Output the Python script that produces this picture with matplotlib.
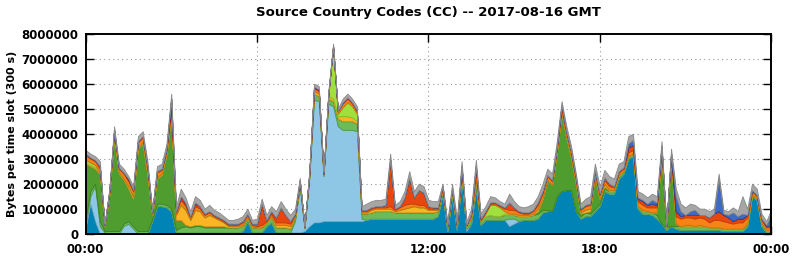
import numpy as np
import matplotlib
matplotlib.use("Agg")
import matplotlib.pyplot as plt

# bytes per 10-minute step, in millions, bottom layer first
db = [.2, 1.2, .5, 0, .05, 0, 0, 0, 0, 0,
      0, 0, 0, 0, .5, 1.1, 1.1, 1.05, .9, .05,
      .05, .05, .05, .05, .05, .05, .05, .05, .05, .05,
      .05, .05, .05, .1, .5, .05, .05, .05, .3, .45,
      .05, .05, .05, .05, .05, .05, .1, .3, .45, .45,
      .5, .5, .5, .5, .5, .5, .5, .5, .5, .55,
      .6, .6, .6, .6, .6, .6, .6, .6, .6, .6,
      .6, .6, .6, .6, .7, 1.6, .1, 1.5, .15, 2.2,
      .1, .4, 1.8, .35, .55, .55, .55, .55, .55, .3,
      .4, .5, .55, .55, .55, .6, .85, .9, .9, 1.5,
      1.7, 1.75, 1.75, .9, .6, .7, .7, .9, 1.1, 1.7,
      1.6, 1.6, 2.2, 2.4, 3.0, 3.1, 1.0, .8, .8, .75,
      .6, .4, .15, .3, .2, .15, .15, .15, .15, .15,
      .15, .15, .15, .15, .1, .1, .1, .1, .1, .3,
      1.5, 1.35, .3, .05, .05]
lb = [.1, .3, 1.4, .3, 0, 0, 0, 0, .3, .4,
      .2, 0, 0, 0, 0, 0, 0, 0, 0, 0,
      0, 0, 0, 0, 0, 0, 0, 0, 0, 0,
      0, 0, 0, 0, 0, 0, 0, 0, 0, 0,
      0, 0, 0, 0, .45, 1.8, .1, 1.9, 4.9, 4.85,
      1.8, 4.7, 4.6, 3.8, 3.65, 3.65, 3.65, 3.6, .1, 0,
      0, 0, 0, 0, 0, 0, 0, 0, 0, 0,
      0, 0, 0, 0, 0, 0, 0, 0, 0, 0,
      .1, 0, 0, 0, 0, 0, 0, 0, 0, .3,
      .2, 0, 0, 0, 0, 0, 0, 0, 0, 0,
      0, 0, 0, 0, 0, 0, 0, 0, 0, 0,
      0, 0, 0, 0, 0, 0, 0, 0, 0, 0,
      0, 0, 0, 0, 0, 0, 0, 0, 0, 0,
      0, 0, 0, 0, 0, 0, 0, 0, 0, 0,
      0, 0, 0, 0, 0]
mg = [.3, .2, .1, .2, .05, .1, .1, .1, .1, .1,
      .1, .1, .1, .1, .05, .1, .1, .1, .1, .1,
      .2, .25, .2, .25, .25, .2, .2, .2, .2, .2,
      .2, .2, .2, .2, .15, .2, .2, .2, .15, .2,
      .2, .2, .2, .15, .1, .1, .05, .1, .25, .2,
      .05, .2, .2, .3, .35, .35, .35, .3, .2, .25,
      .25, .3, .3, .3, .3, .25, .25, .25, .25, .25,
      .25, .25, .25, .25, .2, .1, .15, .15, .15, .15,
      .1, .2, .2, .15, .15, .2, .15, .15, .2, .15,
      .15, .2, .15, .15, .2, .2, .1, .05, 0, 0,
      0, 0, 0, 0, .1, .15, .1, .1, .1, .1,
      .1, .1, .1, .1, .1, .1, .1, .1, .1, .1,
      .15, 0, .1, 0, .1, .15, .15, .15, .15, .15,
      .15, .1, .1, .1, .1, .1, .1, .1, .1, .1,
      .05, .05, .1, .1, .1]
dg = [2.2, 1.0, .6, 1.9, .2, 1.45, 3.8, 2.3, 1.75, 1.3,
      1.1, 3.3, 3.5, 2.2, .2, 1.0, 1.15, 2.0, 3.65, .4,
      .3, .05, .05, .05, .05, .05, .05, .05, .05, .05,
      0, 0, 0, 0, 0, 0, 0, 0, 0, 0,
      0, 0, 0, 0, 0, .05, 0, 0, 0, 0,
      0, 0, 0, 0, 0, 0, 0, 0, 0, 0,
      0, 0, 0, 0, 0, 0, 0, 0, 0, 0,
      0, 0, 0, 0, 0, 0, 0, 0, 0, 0,
      0, 0, 0, 0, 0, 0, 0, 0, 0, 0,
      0, 0, 0, 0, 0, .1, .4, 1.2, 1.05, 1.75,
      3.1, 2.1, 1.3, 1.1, .1, 0, .1, 1.3, .2, .1,
      0, 0, 0, 0, 0, 0, 0, 0, 0, 0,
      .1, 2.8, 0, 2.7, .1, 0, 0, 0, 0, 0,
      0, 0, 0, 0, 0, 0, 0, 0, 0, 0,
      0, 0, 0, 0, 0]
ye = [.05, .05, .05, .05, 0, 0, .05, .05, .05, .1,
      .1, .05, .05, .1, 0, .05, .05, .05, .1, .2,
      .6, .6, .25, .6, .55, .35, .45, .35, .25, .15,
      .05, .05, .05, .05, 0, .05, 0, 0, 0, .05,
      .1, .1, .1, .1, .05, .05, 0, 0, .1, .1,
      0, .1, .1, .1, .2, .2, .15, .1, .05, .05,
      .1, .1, .1, .1, .1, .05, .1, .15, .2, .25,
      .2, .2, .1, .1, .05, .05, 0, 0, 0, .05,
      0, .05, .15, 0, 0, 0, 0, 0, .05, .05,
      .05, .05, .05, .05, .05, .1, .05, 0, 0, 0,
      0, 0, 0, 0, .05, .1, .1, 0, 0, .1,
      .05, .05, .05, 0, 0, 0, 0, .05, 0, 0,
      0, 0, 0, 0, 0, 0, .05, .05, 0, .05,
      0, 0, 0, 0, 0, 0, 0, 0, 0, 0,
      0, 0, 0, 0, 0]
li = [.1, .1, .1, 0, 0, 0, 0, 0, 0, 0,
      0, 0, 0, 0, 0, 0, 0, 0, 0, 0,
      0, 0, 0, 0, 0, 0, 0, 0, 0, 0,
      0, 0, 0, 0, 0, 0, 0, 0, 0, 0,
      0, 0, 0, 0, 0, 0, 0, 0, 0, 0,
      0, 0, 2.05, .1, .35, .55, .45, .3, 0, 0,
      0, 0, 0, 0, 0, 0, 0, 0, 0, 0,
      0, 0, 0, 0, 0, 0, 0, 0, 0, 0,
      0, 0, 0, 0, .1, .4, .45, .35, .1, 0,
      0, 0, 0, 0, 0, 0, 0, 0, 0, 0,
      0, 0, 0, 0, 0, 0, 0, 0, 0, 0,
      0, 0, 0, 0, 0, 0, 0, 0, 0, 0,
      0, 0, 0, 0, 0, 0, 0, 0, 0, 0,
      0, 0, 0, 0, 0, 0, 0, 0, 0, 0,
      0, 0, 0, 0, 0]
orng = [.2, .15, .15, .15, .05, .1, .15, .15, .2, .2,
        .2, .2, .2, .25, .1, .2, .15, .15, .3, .1,
        .2, .15, .1, .15, .1, .1, .1, .05, .05, .05,
        .05, .05, .05, .1, .1, .05, .05, .1, .05, .1,
        .1, .1, .1, .1, .1, .05, .03, .05, .1, .1,
        .05, .05, .05, .1, .15, .15, .1, .1, .05, .05,
        .05, .05, .05, .05, .1, .05, .1, .15, .15, .1,
        .1, .1, .05, .05, .05, .1, .05, .1, .05, .15,
        .05, .1, .3, .05, .05, .05, .05, .05, .1, .15,
        .15, .1, .05, .05, .1, .15, .2, .15, .15, .15,
        .2, .2, .2, .2, .1, .15, .15, .2, .15, .15,
        .15, .1, .1, .1, .15, .15, .2, .2, .15, .2,
        .2, .2, .05, .15, .3, .3, .3, .3, .3, .3,
        .3, .2, .3, .3, .3, .25, .2, .25, .25, .25,
        .15, .1, .15, .1, .1]
rd = [.05, .05, .05, .1, 0, .05, .05, .05, .05, .05,
      .05, .05, .05, .05, 0, .05, .05, .05, .05, .05,
      .1, .1, .05, .1, .1, .05, .05, .05, .05, .05,
      .05, .05, .05, .05, .05, .05, .1, .8, .05, .1,
      .2, .6, .3, .1, .05, .03, 0, .05, .05, .05,
      0, .03, 0, 0, .05, .05, .05, .05, .05, .05,
      .05, .05, .05, .1, 1.8, .05, .05, .3, 1.0, .25,
      .6, .5, .1, .05, .05, .05, 0, .05, 0, .1,
      0, .05, .2, .05, .05, .05, .05, .05, .05, .3,
      .1, .05, .05, .05, .05, .1, .1, .05, .05, .05,
      .1, .05, .05, .05, .05, .05, .05, .05, .05, .1,
      .1, .05, .05, .05, .2, .2, .1, .15, .1, .15,
      .1, .1, 0, .05, .2, .1, .1, .1, .15, .1,
      .15, .2, .25, .35, .25, .2, .1, .15, .15, .1,
      .05, .05, .05, .05, .05]
dr = [0, 0, 0, 0, 0, 0, 0, 0, 0, .05,
      0, 0, 0, 0, 0, 0, 0, 0, .3, 0,
      .05, .03, 0, .05, 0, 0, 0, 0, 0, 0,
      0, 0, 0, 0, 0, 0, 0, .05, 0, 0,
      0, 0, 0, 0, 0, 0, 0, 0, .03, .02,
      0, 0, 0, 0, 0, 0, 0, 0, 0, 0,
      0, 0, 0, 0, .05, 0, 0, 0, .05, 0,
      0, 0, 0, 0, 0, 0, 0, 0, 0, .05,
      0, 0, .05, 0, 0, 0, 0, 0, 0, 0,
      0, 0, 0, 0, 0, 0, 0, 0, 0, 0,
      .05, 0, 0, 0, 0, 0, 0, 0, 0, 0,
      0, 0, 0, 0, 0, 0, 0, 0, 0, 0,
      0, 0, 0, 0, 0, 0, 0, 0, 0, 0,
      0, 0, 0, 0, 0, 0, 0, 0, 0, 0,
      0, 0, 0, 0, 0]
rb = [0, 0, 0, 0, 0, 0, 0, 0, 0, 0,
      0, 0, 0, 0, 0, 0, 0, 0, 0, 0,
      0, 0, 0, 0, 0, 0, 0, 0, 0, 0,
      0, 0, 0, 0, 0, 0, 0, 0, 0, 0,
      0, 0, 0, 0, 0, 0, 0, 0, 0, 0,
      0, 0, 0, 0, 0, 0, 0, 0, 0, 0,
      0, 0, 0, 0, 0, 0, 0, 0, 0, 0,
      0, 0, 0, 0, 0, 0, 0, 0, 0, 0,
      0, 0, 0, 0, 0, 0, 0, 0, 0, 0,
      0, 0, 0, 0, 0, 0, 0, 0, 0, 0,
      0, 0, 0, 0, 0, 0, 0, 0, 0, 0,
      0, 0, 0, 0, .15, .2, .05, .05, .05, .15,
      .1, 0, 0, 0, .6, .2, 0, .15, .2, 0,
      0, 0, 0, 1.3, .05, .1, .35, .1, .2, 0,
      0, 0, 0, .05, .45]
gr = [.15, .15, .15, .2, .05, .1, .15, .15, .15, .1,
      .15, .2, .2, .2, .1, .2, .2, .2, .2, .2,
      .3, .22, .2, .25, .25, .2, .25, .2, .2, .15,
      .15, .15, .2, .2, .2, .15, .2, .2, .2, .2,
      .25, .25, .25, .25, .2, .1, .03, .1, .12, .13,
      .1, .12, .1, .1, .15, .15, .15, .15, .15, .25,
      .25, .25, .25, .25, .25, .15, .2, .25, .25, .25,
      .25, .25, .25, .25, .25, .1, .2, .2, .25, .2,
      .15, .2, .25, .2, .2, .25, .2, .15, .15, .35,
      .25, .2, .2, .25, .25, .25, .3, .25, .25, .25,
      .15, .2, .2, .15, .2, .25, .3, .25, .3, .3,
      .3, .3, .3, .25, .3, .25, .25, .25, .25, .25,
      .25, .2, .1, .2, .3, .3, .3, .3, .2, .25,
      .25, .25, .2, .2, .15, .15, .2, .2, .7, .25,
      .25, .25, .2, .15, .2]

layers = [db, lb, mg, dg, ye, li, orng, rd, dr, rb, gr]
fills = ['#0083b5', '#8ec6e6', '#6cbb58', '#4f9d2f', '#fbb423', '#9fe03c',
         '#f58318', '#e8460f', '#a8282a', '#3d6ac6', '#a6a6a6']
edges = ['#006a94', '#6fa8c8', '#4f9a40', '#3d7f22', '#d9951a', '#7fc02a',
         '#d06a10', '#c0380b', '#801c1e', '#2c4fa0', '#888888']

hours = np.linspace(0, 24, len(db))
values = [np.array(v) * 1e6 for v in layers]

fig = plt.figure(figsize=(7.92, 2.59), dpi=100)
ax = fig.add_axes([0.108, 0.098, 0.8655, 0.772])

polys = ax.stackplot(hours, *values, colors=fills, linewidth=0.6)
for p, e in zip(polys, edges):
    p.set_edgecolor(e)

ax.set_xlim(0, 24)
ax.set_ylim(0, 8e6)
ax.set_xticks([0, 6, 12, 18, 24])
ax.set_xticklabels(['00:00', '06:00', '12:00', '18:00', '00:00'])
ax.set_yticks(np.arange(0, 9) * 1e6)
ax.set_yticklabels([str(v * 1000000) for v in range(9)])
ax.grid(True, color='#999999', linestyle=(0, (1, 3)), linewidth=0.8)
ax.set_axisbelow(True)

ax.tick_params(direction='in', length=6, width=1, top=True, right=True,
               labelsize=8.5)
ax.tick_params(axis='y', pad=5)
ax.tick_params(axis='x', pad=7)
for lbl in ax.get_xticklabels() + ax.get_yticklabels():
    lbl.set_fontweight('bold')
for s in ax.spines.values():
    s.set_linewidth(1.4)

ax.set_ylabel('Bytes per time slot (300 s)', fontsize=8, fontweight='bold',
              labelpad=3)
fig.suptitle('Source Country Codes (CC) -- 2017-08-16 GMT', x=0.541, y=0.975,
             fontsize=9.5, fontweight='bold')

fig.savefig('out.png', dpi=100)
